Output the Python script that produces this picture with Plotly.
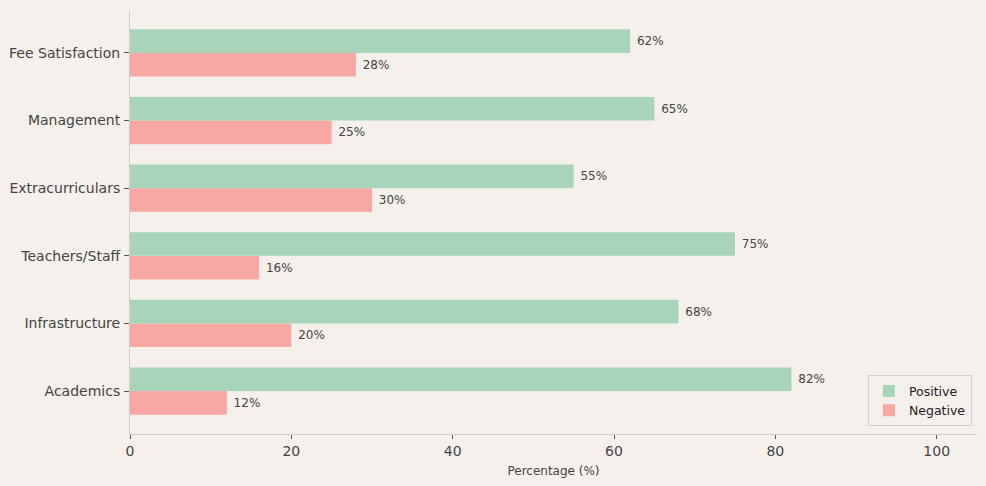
import plotly.graph_objects as go

categories = ["Academics", "Infrastructure", "Teachers/Staff", "Extracurriculars", "Management", "Fee Satisfaction"]
positive = [82, 68, 75, 55, 65, 62]
negative = [12, 20, 16, 30, 25, 28]

fig = go.Figure()
fig.add_trace(go.Bar(
    y=categories, x=negative, name="Negative", orientation="h",
    marker=dict(color="#f7a8a4", line=dict(width=0)),
    text=[f"{v}%" for v in negative], texttemplate=" %{text}", textposition="outside",
    textfont=dict(size=12, color="#444444"), cliponaxis=False, legendrank=2,
))
fig.add_trace(go.Bar(
    y=categories, x=positive, name="Positive", orientation="h",
    marker=dict(color="#a8d5ba", line=dict(width=0)),
    text=[f"{v}%" for v in positive], texttemplate=" %{text}", textposition="outside",
    textfont=dict(size=12, color="#444444"), cliponaxis=False, legendrank=1,
))

fig.update_layout(
    width=986, height=486,
    barmode="group", bargap=0.3, bargroupgap=0,
    paper_bgcolor="#f5f0eb", plot_bgcolor="#f5f0eb",
    margin=dict(l=130, r=9, t=10, b=52),
    font=dict(family="DejaVu Sans", color="#444444", size=14),
    showlegend=True,
    legend=dict(x=0.994, y=0.018, xanchor="right", yanchor="bottom",
                bgcolor="#f5f0eb", bordercolor="#d0d0d0", borderwidth=1,
                font=dict(size=12.5, color="#222222"), tracegroupgap=0),
)
fig.update_xaxes(
    range=[0, 105], tickvals=[0, 20, 40, 60, 80, 100], automargin=False,
    showgrid=False, zeroline=False, showline=True, linecolor="#cccccc", linewidth=1,
    ticks="outside", ticklen=4, tickcolor="#555555", tickfont=dict(size=14, color="#444444"),
    title=dict(text="Percentage (%)", font=dict(size=12, color="#444444"), standoff=8),
)
fig.update_yaxes(
    range=[-0.635, 5.635], showgrid=False, zeroline=False, showline=True, automargin=False,
    linecolor="#cccccc", linewidth=1, ticks="outside", ticklen=5, tickcolor="#555555",
    tickfont=dict(size=14, color="#444444"), ticklabelstandoff=1,
)

fig.write_html("out.html", config={"displayModeBar": False},
               post_script="document.body.style.margin='0';document.body.style.background='#f5f0eb';")
